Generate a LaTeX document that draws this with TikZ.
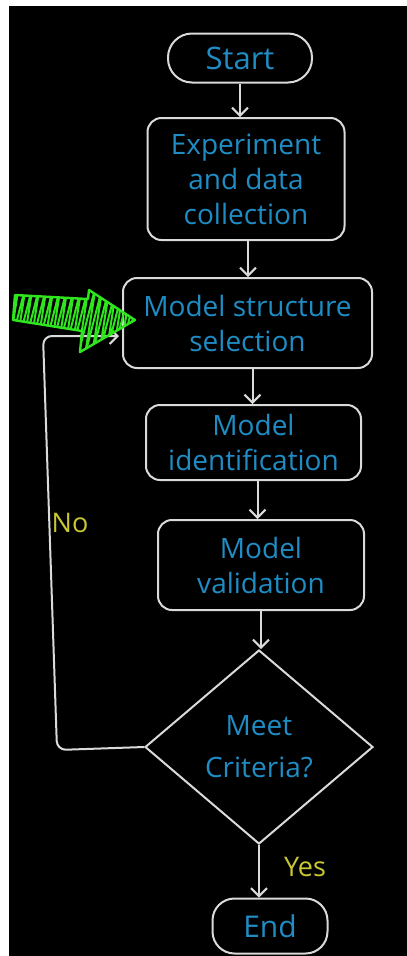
\documentclass[tikz,border=0pt]{standalone}
\usepackage{fontspec}
\setmainfont{Open Sans}
\usetikzlibrary{arrows.meta,shapes.geometric}
\definecolor{chalk}{HTML}{DADADA}
\definecolor{inkblue}{HTML}{1F8CC4}
\definecolor{inkyellow}{HTML}{C9C832}
\definecolor{inkgreen}{HTML}{2EE51E}
\tikzset{
  stepbox/.style={draw=chalk, line width=2pt, rounded corners=14pt, text=inkblue,
    font=\fontsize{28}{35}\selectfont, align=center, inner sep=0pt},
  pill/.style={stepbox, rounded corners=24pt},
  decision/.style={draw=chalk, line width=2pt, diamond, text=inkblue,
    font=\fontsize{28}{42}\selectfont, align=center, inner sep=0pt},
  flow/.style={draw=chalk, line width=2pt, -{Straight Barb[length=8pt,width=16pt,line width=2pt]}},
  lbl/.style={text=inkyellow, font=\fontsize{27}{30}\selectfont, inner sep=0pt}
}
\begin{document}
\begin{tikzpicture}[x=1pt,y=-1pt]
  \fill[white] (0,0) rectangle (407,956);
  \fill[black] (9,6) rectangle (407,956);
  \useasboundingbox (0,0) rectangle (407,956);

  \node[pill, minimum width=144pt, minimum height=49pt, font=\fontsize{31}{35}\selectfont] (start) at (240,58) {Start};
  \node[stepbox, minimum width=197pt, minimum height=122pt] (b1) at (246,179) {Experiment\\and data\\collection};
  \node[stepbox, minimum width=249pt, minimum height=90pt] (b2) at (247.5,323) {Model structure\\selection};
  \node[stepbox, minimum width=215pt, minimum height=75pt] (b3) at (253.5,442.5) {Model\\identification};
  \node[stepbox, minimum width=206pt, minimum height=90pt] (b4) at (261,565) {Model\\validation};
  \node[decision, minimum width=228pt, minimum height=194pt] (dia) at (259,747) {Meet\\Criteria?};
  \node[pill, rounded corners=22pt, minimum width=115pt, minimum height=55pt, font=\fontsize{30}{35}\selectfont] (end) at (270,926) {End};

  \draw[flow] (start.south) -- (start.south |- b1.north);
  \draw[flow] ([xshift=2pt]b1.south) -- ([xshift=2pt]b1.south |- b2.north);
  \draw[flow] ([xshift=5pt]b2.south) -- ([xshift=5pt]b2.south |- b3.north);
  \draw[flow] ([xshift=4pt]b3.south) -- ([xshift=4pt]b3.south |- b4.north);
  \draw[flow] (b4.south) -- (b4.south |- dia.north);
  \draw[flow] (dia.south) -- (dia.south |- end.north);

  \coordinate (c1) at (57,750);
  \coordinate (c2) at (43,336);
  \draw[flow, rounded corners=9pt] (dia.west) -- (c1) -- (c2) -- ([xshift=-3pt]c2 -| b2.west);

  \node[lbl] (no) at (70,523) {No};
  \node[lbl] (yes) at (305,867) {Yes};

  % green arrow
  \begin{scope}
    \clip (15,295) -- (88,299) -- (89,290) -- (135,320) -- (80,352) -- (82,331) -- (13,320) -- cycle;
    \draw[inkgreen, line width=2pt, line join=round]
      (0,340) \foreach \k in {0,...,18} { -- ({12+7*\k},285) -- ({-2+7*\k+3},355) };
  \end{scope}
  \draw[inkgreen, line width=2.4pt, line join=round]
    (15,295) -- (88,299) -- (89,290) -- (135,320) -- (80,352) -- (82,331) -- (13,320) -- cycle;
\end{tikzpicture}
\end{document}
